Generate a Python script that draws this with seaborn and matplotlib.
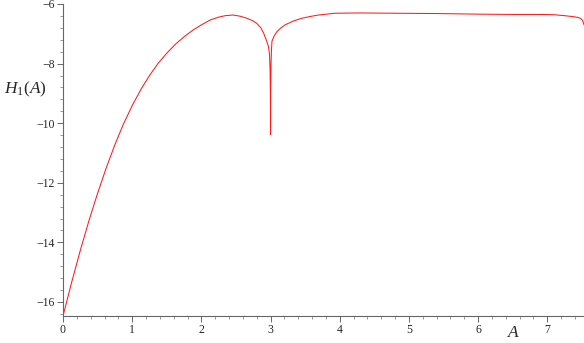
import matplotlib
matplotlib.use("Agg")
import matplotlib.pyplot as plt
import seaborn as sns
from matplotlib.ticker import MultipleLocator

# values
A = [0.0, 0.125, 0.25, 0.375, 0.5, 0.625, 0.75, 0.875, 1.0, 1.125, 1.25,
     1.375, 1.5, 1.625, 1.75, 1.875, 2.0, 2.125, 2.25, 2.35, 2.46, 2.56,
     2.66, 2.74, 2.80, 2.86, 2.90, 2.94, 2.97, 2.985, 2.993, 2.998, 3.0,
     3.002, 3.007, 3.013, 3.02, 3.05, 3.09, 3.15, 3.21, 3.33, 3.45, 3.57,
     3.69, 3.93, 4.3, 4.8, 5.4, 6.0, 6.5, 6.9, 7.1, 7.24, 7.36, 7.44,
     7.48, 7.51, 7.53]
H = [-16.47, -15.34, -14.27, -13.27, -12.35, -11.50, -10.72, -10.02, -9.41,
     -8.87, -8.40, -7.99, -7.65, -7.35, -7.10, -6.88, -6.70, -6.54, -6.44,
     -6.39, -6.37, -6.41, -6.48, -6.56, -6.65, -6.80, -6.98, -7.22, -7.43,
     -7.70, -8.20, -9.10, -10.38, -8.90, -7.95, -7.55, -7.25, -7.08, -6.93,
     -6.80, -6.70, -6.57, -6.48, -6.42, -6.37, -6.31, -6.30, -6.31, -6.32,
     -6.34, -6.35, -6.35, -6.36, -6.39, -6.42, -6.45, -6.48, -6.55, -6.70]

x_major = [0, 1, 2, 3, 4, 5, 6, 7]
y_major = [-16, -14, -12, -10, -8, -6]

sns.set_style("ticks")
plt.rcParams["font.family"] = ["Liberation Serif", "DejaVu Serif"]
plt.rcParams["mathtext.fontset"] = "custom"
plt.rcParams["mathtext.rm"] = "Liberation Serif"
plt.rcParams["mathtext.it"] = "Liberation Serif:italic"

fig = plt.figure(figsize=(5.84, 3.43), dpi=100)
ax = fig.add_axes([63 / 584, 27 / 343, 1 - 63 / 584, 1 - 31 / 343])

sns.lineplot(x=A, y=H, sort=False, color="#ff1a1a", linewidth=0.75, ax=ax)

ax.set_xlim(0, 7.53)
ax.set_ylim(-16.47, -6)
ax.set_xticks(x_major)
ax.set_yticks(y_major)
ax.xaxis.set_minor_locator(MultipleLocator(0.2))
ax.yaxis.set_minor_locator(MultipleLocator(0.4))
ax.set_yticklabels([f"\u2212{abs(v)}" for v in y_major])

for s in ["top", "right"]:
    ax.spines[s].set_visible(False)
for s in ["left", "bottom"]:
    ax.spines[s].set_color("#666666")
    ax.spines[s].set_linewidth(0.8)

ax.tick_params(which="major", length=4, width=0.7, color="#666666",
               labelsize=8.5, pad=2)
ax.tick_params(which="minor", length=2, width=0.6, color="#888888")

fig.text(4 / 584, 1 - 89 / 343, "$H_1(A)$", fontsize=12.5, va="center", ha="left")
fig.text(514 / 584, 1 - 333 / 343, "$A$", fontsize=12.5, va="center", ha="center")

fig.savefig("out.png", dpi=100)
